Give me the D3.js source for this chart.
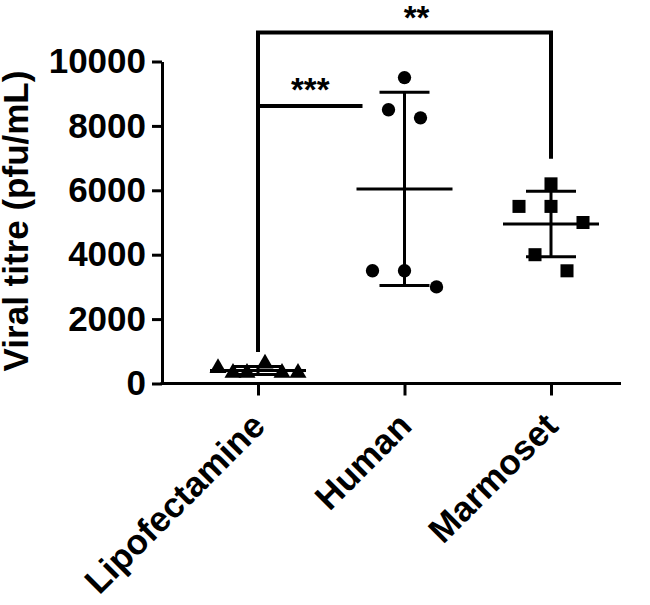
<!DOCTYPE html>
<html lang="en">
  <head>
    <meta charset="utf-8">
    <title>Viral titre</title>
    <script src="https://d3js.org/d3.v7.min.js"></script>
    <style>
      body { margin: 0; background: #fff; }
      text { font-family: "Liberation Sans", Arial, sans-serif; font-weight: bold; fill: #000; }
    </style>
  </head>
  <body>
    <div id="chart"></div>
    <script type="text/javascript">
      // values (pfu/mL)
      var groups = ["Lipofectamine", "Human", "Marmoset"];
      var lipofectamine = [480, 330, 330, 620, 330, 330];
      var human = [9500, 8500, 8250, 3500, 3500, 3000];
      var marmoset = [6200, 5500, 5500, 5000, 4000, 3500];
      var yTicks = [0, 2000, 4000, 6000, 8000, 10000];
      var yLabel = "Viral titre (pfu/mL)";
      var comparisons = [
        { from: "Lipofectamine", to: "Human", label: "***", top: 8620 },
        { from: "Lipofectamine", to: "Marmoset", label: "**", top: 10900, leftEnd: 1040, rightEnd: 7040 }
      ];

      // layout bits (pixels)
      var width = 650, height = 605;
      var jitter = {
        Lipofectamine: [-40, -25, -11, 7, 24, 40],
        Human: [0, -16, 16, -32, 0, 32],
        Marmoset: [0, -32, 0, 32, -16, 16]
      };
      var shapes = { Lipofectamine: d3.symbolTriangle, Human: d3.symbolCircle, Marmoset: d3.symbolSquare };
      var shapeSize = { Lipofectamine: 125, Human: 140, Marmoset: 170 };

      var values = { Lipofectamine: lipofectamine, Human: human, Marmoset: marmoset };

      var svg = d3.select("#chart").append("svg")
        .attr("width", width)
        .attr("height", height);

      var y = d3.scaleLinear().domain([0, 10000]).range([383.5, 61.5]);
      var x = d3.scalePoint().domain(groups).range([258, 551]);

      // y axis
      var yAxis = d3.axisLeft(y).tickValues(yTicks).tickFormat(d3.format("d"))
        .tickSize(10).tickSizeOuter(0).tickPadding(6);
      var gy = svg.append("g").attr("transform", "translate(162,0)").call(yAxis);
      gy.select(".domain").attr("stroke", "#000").attr("stroke-width", 3);
      gy.selectAll(".tick line").attr("stroke", "#000").attr("stroke-width", 3);
      gy.selectAll(".tick text").style("font-size", "35px").attr("font-family", null).attr("font-size", null);

      // x axis
      var xAxis = d3.axisBottom(x).tickSize(12).tickSizeOuter(0).tickFormat("");
      var gx = svg.append("g").attr("transform", "translate(0," + y(0) + ")").call(xAxis);
      gx.select(".domain").remove();
      gx.selectAll(".tick line").attr("stroke", "#000").attr("stroke-width", 3);
      svg.append("line")
        .attr("x1", 160.5).attr("x2", 621)
        .attr("y1", y(0)).attr("y2", y(0))
        .attr("stroke", "#000").attr("stroke-width", 3);

      // category labels
      svg.selectAll("text.cat").data(groups).enter().append("text")
        .attr("class", "cat")
        .attr("text-anchor", "end")
        .attr("transform", function(d) { return "translate(" + (x(d) + 9) + ",428) rotate(-45)"; })
        .style("font-size", "35px")
        .text(function(d) { return d; });

      // y label
      svg.append("text")
        .attr("text-anchor", "middle")
        .attr("transform", "translate(28,221) rotate(-90)")
        .style("font-size", "35px")
        .text(yLabel);

      // points
      groups.forEach(function(g) {
        var sym = d3.symbol().type(shapes[g]).size(shapeSize[g]);
        svg.append("g").selectAll("path").data(values[g]).enter().append("path")
          .attr("d", sym)
          .attr("fill", "#000")
          .attr("transform", function(d, i) { return "translate(" + (x(g) + jitter[g][i]) + "," + y(d) + ")"; });
      });

      // mean and SD
      groups.forEach(function(g) {
        var m = d3.mean(values[g]), sd = d3.deviation(values[g]);
        var cx = x(g);
        var lines = [
          [cx - 48, y(m), cx + 48, y(m)],
          [cx, y(m - sd), cx, y(m + sd)],
          [cx - 25, y(m + sd), cx + 25, y(m + sd)],
          [cx - 25, y(m - sd), cx + 25, y(m - sd)]
        ];
        svg.append("g").selectAll("line").data(lines).enter().append("line")
          .attr("x1", function(d) { return d[0]; })
          .attr("y1", function(d) { return d[1]; })
          .attr("x2", function(d) { return d[2]; })
          .attr("y2", function(d) { return d[3]; })
          .attr("stroke", "#000").attr("stroke-width", 3);
      });

      // significance brackets
      var c1 = comparisons[0], c2 = comparisons[1];
      svg.append("line")
        .attr("x1", x(c1.from) - 2).attr("x2", x(c1.to) - 42)
        .attr("y1", y(c1.top)).attr("y2", y(c1.top))
        .attr("stroke", "#000").attr("stroke-width", 4);
      svg.append("text")
        .attr("text-anchor", "middle")
        .attr("x", (x(c1.from) + x(c1.to) - 42) / 2)
        .attr("y", y(c1.top) - 5)
        .style("font-size", "33px")
        .text(c1.label);

      svg.append("path")
        .attr("d", "M" + x(c2.from) + "," + y(c2.leftEnd) +
                   "V" + y(c2.top) + "H" + x(c2.to) + "V" + y(c2.rightEnd))
        .attr("fill", "none")
        .attr("stroke", "#000").attr("stroke-width", 4)
        .attr("stroke-linejoin", "miter").attr("stroke-linecap", "square");
      svg.append("text")
        .attr("text-anchor", "middle")
        .attr("x", (x(c2.from) + x(c2.to)) / 2 + 12)
        .attr("y", y(c2.top) - 4)
        .style("font-size", "33px")
        .text(c2.label);
    </script>
  </body>
</html>
